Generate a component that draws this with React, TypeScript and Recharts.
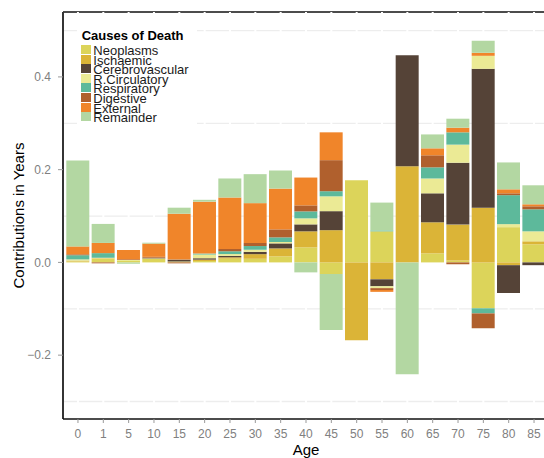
import React from 'react';
import { BarChart, Bar, XAxis, YAxis, CartesianGrid } from 'recharts';

const ages = ['0', '1', '5', '10', '15', '20', '25', '30', '35', '40', '45', '50', '55', '60', '65', '70', '75', '80', '85'];

const causes = ['Neoplasms', 'Ischaemic', 'Cerebrovascular', 'R.Circulatory', 'Respiratory', 'Digestive', 'External', 'Remainder'];
const colors = ['#DCD45A', '#DBB437', '#554337', '#EBEA95', '#5DB99B', '#B0602D', '#F0852A', '#B3D7A2'];

const neoplasms = [0.002, 0.008, 0.003, 0.008, 0.002, 0.003, 0.008, 0.0078, 0.013, 0.0325, -0.025, 0.177, 0.067, 0, 0.0195, 0.004, -0.099, 0.076, 0.039];
const ischaemic = [0.001, 0.001, 0, 0, 0, 0.003, 0.003, 0.01, 0.0172, 0.0345, 0.0695, -0.168, -0.0365, 0.2075, 0.067, 0.0775, 0.118, -0.006, 0.0065];
const cerebrovascular = [0.0005, 0, 0, 0.001, 0.004, 0.003, 0.003, 0.005, 0.0108, 0.015, 0.041, 0, -0.015, 0.239, 0.0625, 0.1335, 0.2995, -0.06, -0.006];
const rCirculatory = [0.003, 0.001, 0.002, 0.001, 0, 0.008, 0.004, 0.0045, 0.003, 0.013, 0.032, 0, -0.004, 0, 0.032, 0.039, 0.028, 0.0065, 0.0215];
const respiratory = [0.009, 0.01, 0, 0, 0, 0.002, 0.006, 0.008, 0.01, 0.015, 0.011, 0, 0.002, 0, 0.024, 0.0265, -0.011, 0.0625, 0.0475];
const digestive = [0.002, -0.002, 0.002, 0.002, -0.002, 0, 0.005, 0.0065, 0.0172, 0.013, 0.067, 0, -0.004, 0, 0.026, -0.004, -0.032, 0.004, 0.0065];
const external = [0.017, 0.022, 0.0195, 0.0285, 0.099, 0.112, 0.111, 0.086, 0.088, 0.06, 0.06, 0, -0.004, 0, 0.015, 0.01, 0.0065, 0.0086, 0.0043];
const remainder = [0.185, 0.041, -0.003, 0.002, 0.013, 0.004, 0.041, 0.0625, 0.039, -0.0215, -0.121, 0, 0.06, -0.241, 0.03, 0.0194, 0.026, 0.058, 0.041];

const yTicks = [-0.2, 0, 0.2, 0.4];
const minorGrid = [-0.3, -0.1, 0.1, 0.3, 0.5];
const yDomain = [-0.3377, 0.54];

const series = [neoplasms, ischaemic, cerebrovascular, rCirculatory, respiratory, digestive, external, remainder];

const data = ages.map((age, i) => {
  const row: Record<string, number | string> = { age };
  causes.forEach((c, k) => {
    row[c] = series[k][i];
  });
  return row;
});

const FONT = '"Liberation Sans", Arial, Helvetica, sans-serif';

const fmt = (v: number) => {
  const s = v.toFixed(1);
  return s.startsWith('-') ? '\u2212' + s.slice(1) : s;
};

const YLabel = (props: any) => {
  const vb = props.viewBox || { x: 0, y: 12, width: 63, height: 407 };
  const cx = vb.x + 18;
  const cy = vb.y + vb.height / 2;
  return (
    <text
      x={cx}
      y={cy}
      transform={`rotate(-90 ${cx} ${cy})`}
      textAnchor="middle"
      dominantBaseline="central"
      fontSize={15}
      fill="#000"
      fontFamily={FONT}
    >
      Contributions in Years
    </text>
  );
};

const LegendBox = () => {
  const boxLeft = 77;
  const boxTop = 20;
  return (
    <div
      style={{
        position: 'absolute',
        left: boxLeft,
        top: boxTop,
        width: 120,
        height: 107,
        background: '#fff',
        fontFamily: FONT,
        color: '#1a1a1a',
      }}
    >
      <div
        style={{
          position: 'absolute',
          left: 81.7 - boxLeft,
          top: 28.6 - boxTop,
          fontSize: 13,
          lineHeight: '13px',
          fontWeight: 'bold',
          whiteSpace: 'nowrap',
          color: '#000',
        }}
      >
        Causes of Death
      </div>
      {causes.map((c, i) => {
        const cy = 49.7 + i * 9.57;
        return (
          <React.Fragment key={c}>
            <div
              style={{
                position: 'absolute',
                left: 81 - boxLeft,
                top: cy - 4.6 - boxTop,
                width: 10,
                height: 9,
                background: colors[i],
              }}
            />
            <div
              style={{
                position: 'absolute',
                left: 93.3 - boxLeft,
                top: cy - 5.6 - boxTop,
                fontSize: 13,
                lineHeight: '13px',
                whiteSpace: 'nowrap',
              }}
            >
              {c}
            </div>
          </React.Fragment>
        );
      })}
    </div>
  );
};

export default function App() {
  return (
    <div
      style={{
        position: 'absolute',
        left: 0,
        top: 0,
        width: 544,
        height: 458,
        overflow: 'hidden',
        background: '#fff',
        fontFamily: FONT,
      }}
    >
      <BarChart
        width={560}
        height={458}
        data={data}
        stackOffset="sign"
        margin={{ top: 12, right: 11, left: 0, bottom: 0 }}
      >
        <CartesianGrid horizontalValues={minorGrid} vertical={false} stroke="#EDEDED" strokeWidth={1.3} />
        <CartesianGrid horizontalValues={[yDomain[1]]} vertical={false} stroke="#111" strokeWidth={1.7} />
        <CartesianGrid horizontal={false} stroke="#FFFFFF" strokeWidth={2} />
        <XAxis
          dataKey="age"
          interval={0}
          padding={{ left: 2.3, right: 2.3 }}
          height={39}
          tickSize={4}
          tickMargin={6}
          axisLine={{ stroke: '#111', strokeWidth: 1.7 }}
          tickLine={{ stroke: '#999' }}
          tick={{ fill: '#808080', fontSize: 12, fontFamily: FONT }}
          label={{ value: 'Age', position: 'insideBottom', offset: 3, fill: '#000', fontSize: 15, fontFamily: FONT }}
        />
        <YAxis
          type="number"
          domain={yDomain}
          allowDataOverflow
          ticks={yTicks}
          tickFormatter={fmt}
          width={63}
          tickSize={5}
          tickMargin={7}
          axisLine={{ stroke: '#111', strokeWidth: 1.7 }}
          tickLine={{ stroke: '#999' }}
          tick={{ fill: '#808080', fontSize: 12, fontFamily: FONT }}
          label={{ content: YLabel }}
        />
        {causes.map((c, k) => (
          <Bar key={c} dataKey={c} stackId="a" fill={colors[k]} barSize={23} isAnimationActive={false} />
        ))}
      </BarChart>
      <LegendBox />
    </div>
  );
}
